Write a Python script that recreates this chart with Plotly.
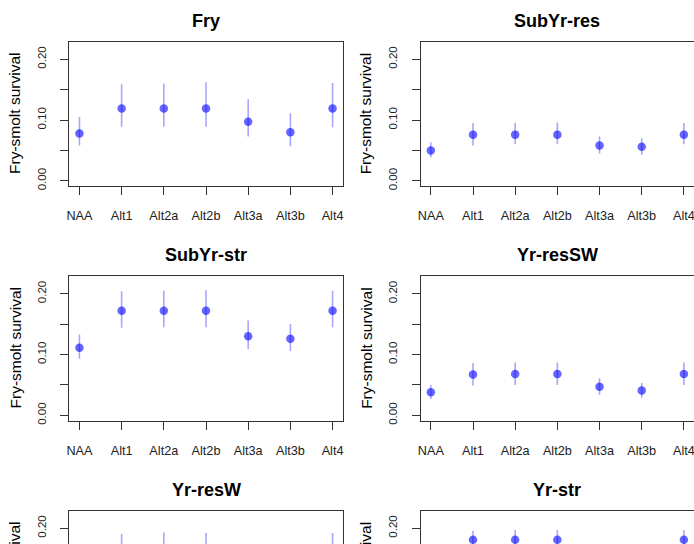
import plotly.graph_objects as go

categories = ["NAA", "Alt1", "Alt2a", "Alt2b", "Alt3a", "Alt3b", "Alt4"]
panel_titles = ["Fry", "SubYr-res", "SubYr-str", "Yr-resSW", "Yr-resW", "Yr-str"]
y_title = "Fry-smolt survival"
y_tickvals = [0.0, 0.05, 0.10, 0.15, 0.20]
y_ticktext = ["0.00", "", "0.10", "", "0.20"]

fry_mean = [0.078, 0.119, 0.119, 0.119, 0.097, 0.080, 0.119]
fry_lo = [0.058, 0.089, 0.089, 0.089, 0.073, 0.057, 0.088]
fry_hi = [0.105, 0.159, 0.160, 0.162, 0.134, 0.111, 0.161]

subyr_res_mean = [0.050, 0.076, 0.076, 0.076, 0.058, 0.056, 0.076]
subyr_res_lo = [0.039, 0.058, 0.060, 0.060, 0.045, 0.043, 0.060]
subyr_res_hi = [0.063, 0.095, 0.095, 0.096, 0.073, 0.070, 0.095]

subyr_str_mean = [0.111, 0.172, 0.172, 0.172, 0.130, 0.126, 0.172]
subyr_str_lo = [0.093, 0.144, 0.145, 0.145, 0.109, 0.106, 0.145]
subyr_str_hi = [0.133, 0.204, 0.205, 0.206, 0.156, 0.150, 0.205]

yr_ressw_mean = [0.038, 0.067, 0.068, 0.068, 0.047, 0.041, 0.068]
yr_ressw_lo = [0.027, 0.049, 0.050, 0.050, 0.034, 0.029, 0.050]
yr_ressw_hi = [0.050, 0.086, 0.087, 0.087, 0.061, 0.053, 0.087]

yr_resw_mean = [0.100, 0.155, 0.156, 0.156, 0.115, 0.108, 0.156]
yr_resw_lo = [0.080, 0.125, 0.126, 0.126, 0.094, 0.088, 0.126]
yr_resw_hi = [0.122, 0.191, 0.193, 0.192, 0.140, 0.132, 0.192]

yr_str_mean = [0.120, 0.181, 0.181, 0.181, 0.140, 0.135, 0.181]
yr_str_lo = [0.108, 0.166, 0.166, 0.166, 0.128, 0.123, 0.166]
yr_str_hi = [0.132, 0.196, 0.197, 0.197, 0.152, 0.147, 0.197]

series = [
    (fry_mean, fry_lo, fry_hi),
    (subyr_res_mean, subyr_res_lo, subyr_res_hi),
    (subyr_str_mean, subyr_str_lo, subyr_str_hi),
    (yr_ressw_mean, yr_ressw_lo, yr_ressw_hi),
    (yr_resw_mean, yr_resw_lo, yr_resw_hi),
    (yr_str_mean, yr_str_lo, yr_str_hi),
]

W, H = 694, 544
FONT = "Liberation Sans, Arial, sans-serif"
LINE = "#333333"

col_px = [(69.3, 342.7), (420.7, 694.0)]
row_px = [(41.7, 186.2), (276.2, 420.7), (510.7, 655.2)]
px_per_unit = (186.2 - 41.7) / 0.2376
y_full = [-0.0088, 0.2288]

fig = go.Figure()
layout = dict(
    width=W, height=H,
    margin=dict(l=0, r=0, t=0, b=0, autoexpand=False),
    paper_bgcolor="white", plot_bgcolor="white",
    showlegend=False,
    font=dict(family=FONT, color="black"),
)
annotations = []

for i, (mean, lo, hi) in enumerate(series):
    r, c = divmod(i, 2)
    n = i + 1
    xa = "xaxis" if n == 1 else f"xaxis{n}"
    ya = "yaxis" if n == 1 else f"yaxis{n}"
    xr = "x" if n == 1 else f"x{n}"
    yr = "y" if n == 1 else f"y{n}"
    x0, x1 = col_px[c]
    top, bot = row_px[r]
    clip_bot = min(bot, H)
    ydom = [1 - clip_bot / H, 1 - top / H]
    if bot > H:
        yrange = [y_full[1] - (H - top) / px_per_unit, y_full[1]]
    else:
        yrange = y_full

    fig.add_trace(go.Scatter(
        x=categories, y=mean, xaxis=xr, yaxis=yr, mode="markers",
        marker=dict(size=8.5, color="rgba(0,0,255,0.6)", line=dict(width=0)),
        error_y=dict(type="data", symmetric=False,
                     array=[h - m for h, m in zip(hi, mean)],
                     arrayminus=[m - l for m, l in zip(mean, lo)],
                     color="rgba(0,0,255,0.35)", thickness=1.6, width=0),
        cliponaxis=True, hoverinfo="skip",
    ))

    cut_bottom = bot > H
    layout[xa] = dict(
        domain=[x0 / W, x1 / W], anchor=yr, automargin=False,
        type="category", range=[-0.24, 6.24],
        side="top" if cut_bottom else "bottom",
        showline=True, linecolor=LINE, linewidth=1,
        mirror=False if cut_bottom else True,
        ticks="" if cut_bottom else "outside", ticklen=8, tickwidth=1, tickcolor=LINE,
        showticklabels=not cut_bottom,
        ticklabelstandoff=10,
        tickfont=dict(family=FONT, size=12.7, color="#222"),
        showgrid=False, zeroline=False, fixedrange=True,
    )
    layout[ya] = dict(
        domain=ydom, anchor=xr, range=yrange, automargin=False,
        showline=True, linecolor=LINE, linewidth=1,
        mirror=True if c == 0 else False,
        ticks="outside", ticklen=8, tickwidth=1, tickcolor=LINE,
        tickvals=y_tickvals, ticktext=y_ticktext, tickangle=-90,
        ticklabelstandoff=10,
        tickfont=dict(family=FONT, size=11.5, color="#222"),
        showgrid=False, zeroline=False, fixedrange=True,
    )

    cx = (x0 + (x0 + 273.4)) / 2
    annotations.append(dict(
        text=f"<b>{panel_titles[i]}</b>", xref="paper", yref="paper",
        x=cx / W, y=1 - (top - 21) / H, xanchor="center", yanchor="middle",
        showarrow=False, font=dict(family=FONT, size=18, color="black"),
    ))
    annotations.append(dict(
        text=y_title, xref="paper", yref="paper", textangle=-90,
        x=(x0 - 54.3) / W, y=1 - ((top + bot) / 2) / H,
        xanchor="center", yanchor="middle",
        showarrow=False, font=dict(family=FONT, size=15.5, color="black"),
    ))

layout["annotations"] = annotations
fig.update_layout(**layout)
fig.write_html(
    "out.html",
    config={"displayModeBar": False},
    post_script="document.body.style.margin='0px';document.body.style.overflow='hidden';",
)
